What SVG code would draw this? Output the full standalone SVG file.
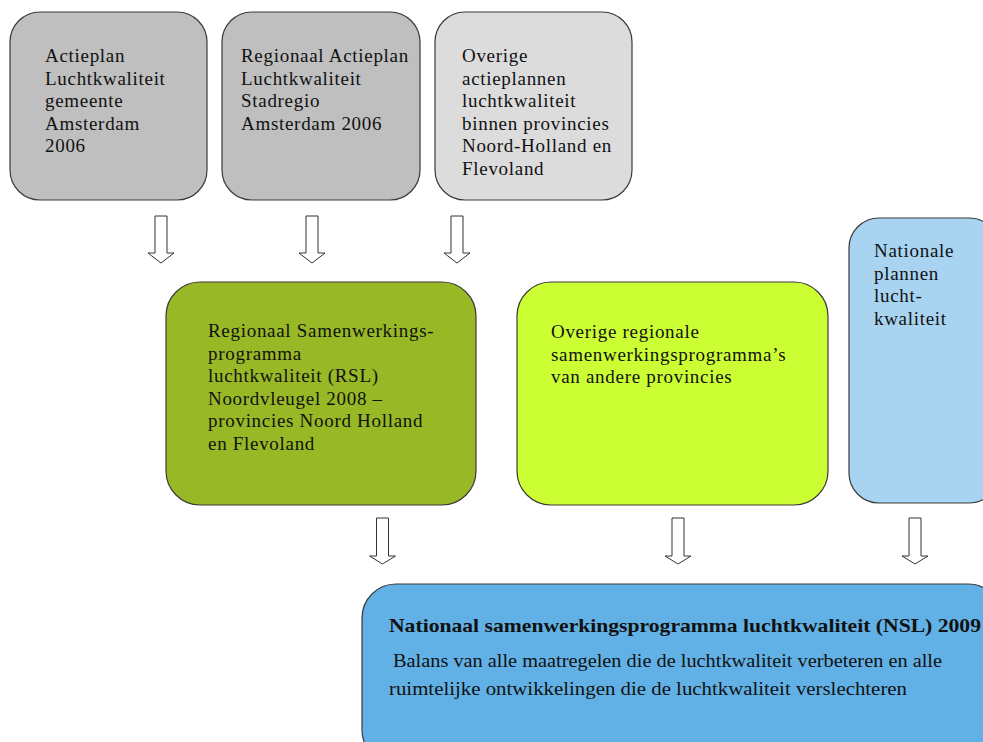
<svg xmlns="http://www.w3.org/2000/svg" width="983" height="742" viewBox="0 0 983 742">
<style>
.box{stroke:#3a3a3a;stroke-width:1.2}
.t{font-family:"Liberation Serif","Times New Roman",serif;font-size:19px;letter-spacing:0.7px;fill:#111}
.b{font-weight:bold;letter-spacing:0}
.n{letter-spacing:0}
.arr{fill:#fff;stroke:#333;stroke-width:1}
</style>
<rect width="983" height="742" fill="#fff"/>
<g id="n1">
<rect class="box" x="10" y="12" width="197" height="188" rx="30" fill="#bfbfbf"/>
<text class="t" x="45" y="62">Actieplan</text>
<text class="t" x="45" y="84.5">Luchtkwaliteit</text>
<text class="t" x="45" y="107">gemeente</text>
<text class="t" x="45" y="129.5">Amsterdam</text>
<text class="t" x="45" y="152">2006</text>
</g>
<g id="n2">
<rect class="box" x="222" y="12" width="198" height="188" rx="30" fill="#bfbfbf"/>
<text class="t" x="241" y="62">Regionaal Actieplan</text>
<text class="t" x="241" y="84.5">Luchtkwaliteit</text>
<text class="t" x="241" y="107">Stadregio</text>
<text class="t" x="241" y="129.5">Amsterdam 2006</text>
</g>
<g id="n3">
<rect class="box" x="435" y="12" width="197" height="188" rx="30" fill="#dcdcdc"/>
<text class="t" x="462" y="62">Overige</text>
<text class="t" x="462" y="84.5">actieplannen</text>
<text class="t" x="462" y="107">luchtkwaliteit</text>
<text class="t" x="462" y="129.5">binnen provincies</text>
<text class="t" x="462" y="152">Noord-Holland en</text>
<text class="t" x="462" y="174.5">Flevoland</text>
</g>
<g id="n4">
<rect class="box" x="166" y="282" width="310" height="223" rx="34" fill="#98b826"/>
<text class="t" x="208" y="337">Regionaal Samenwerkings-</text>
<text class="t" x="208" y="359.5">programma</text>
<text class="t" x="208" y="382">luchtkwaliteit (RSL)</text>
<text class="t" x="208" y="404.5">Noordvleugel 2008 –</text>
<text class="t" x="208" y="427">provincies Noord Holland</text>
<text class="t" x="208" y="449.5">en Flevoland</text>
</g>
<g id="n5">
<rect class="box" x="517" y="282" width="311" height="223" rx="34" fill="#ccff33"/>
<text class="t" x="551" y="338">Overige regionale</text>
<text class="t" x="551" y="360.5">samenwerkingsprogramma’s</text>
<text class="t" x="551" y="383">van andere provincies</text>
</g>
<g id="n6">
<rect class="box" x="849" y="218" width="150" height="285" rx="30" fill="#a8d4f2"/>
<text class="t" x="874" y="257">Nationale</text>
<text class="t" x="874" y="279.5">plannen</text>
<text class="t" x="874" y="302">lucht-</text>
<text class="t" x="874" y="324.5">kwaliteit</text>
</g>
<g id="n7">
<rect class="box" x="362" y="584" width="640" height="180" rx="34" fill="#62b1e6"/>
<text class="t b" x="389" y="632" textLength="592" lengthAdjust="spacingAndGlyphs">Nationaal samenwerkingsprogramma luchtkwaliteit (NSL) 2009</text>
<text class="t n" x="393" y="667" textLength="549" lengthAdjust="spacingAndGlyphs">Balans van alle maatregelen die de luchtkwaliteit verbeteren en alle</text>
<text class="t n" x="389" y="695" textLength="518" lengthAdjust="spacingAndGlyphs">ruimtelijke ontwikkelingen die de luchtkwaliteit verslechteren</text>
</g>
<g id="connectors">
<path class="arr" d="M155,216 H167 V253 H174 L161,263 L148,253 H155 Z"/>
<path class="arr" d="M306,216 H318 V253 H325 L312,263 L299,253 H306 Z"/>
<path class="arr" d="M451,216 H463 V253 H470 L457,263 L444,253 H451 Z"/>
<path class="arr" d="M376.5,518 H388.5 V556 H395.5 L382.5,564 L369.5,556 H376.5 Z"/>
<path class="arr" d="M672,518 H684 V556 H691 L678,564 L665,556 H672 Z"/>
<path class="arr" d="M909,518 H921 V556 H928 L915,564 L902,556 H909 Z"/>
</g>
</svg>
